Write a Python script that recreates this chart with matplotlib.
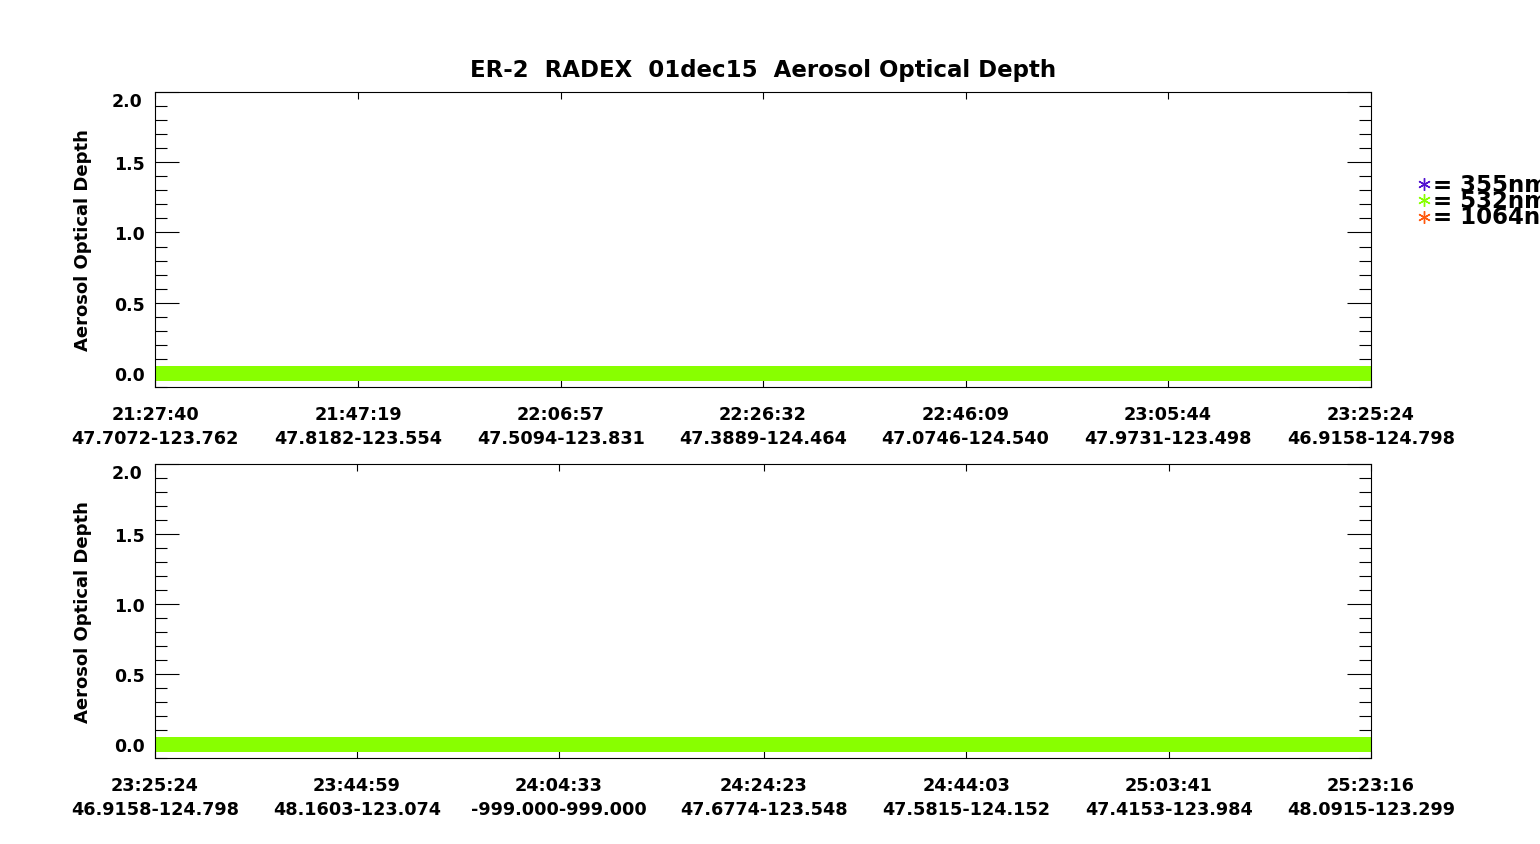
import matplotlib
matplotlib.use("Agg")
import matplotlib.pyplot as plt
import matplotlib.transforms as mtransforms
from matplotlib.lines import Line2D
from matplotlib.ticker import MultipleLocator, FuncFormatter

plt.rcParams['font.family'] = ['DejaVu Sans']
plt.rcParams['font.weight'] = 'bold'

title = "ER-2  RADEX  01dec15  Aerosol Optical Depth"
ylabel = "Aerosol Optical Depth"
ymin, ymax = -0.1, 2.0

# Panel 1 tick times (seconds since 00:00 UTC) and labels
top_tick_sec = [77260, 78439, 79617, 80792, 81969, 83144, 84324]
top_tick_time = ["21:27:40", "21:47:19", "22:06:57", "22:26:32", "22:46:09", "23:05:44", "23:25:24"]
top_tick_pos = ["47.7072-123.762", "47.8182-123.554", "47.5094-123.831", "47.3889-124.464",
                "47.0746-124.540", "47.9731-123.498", "46.9158-124.798"]
top_aod532 = [0.0, 0.0, 0.0, 0.0, 0.0, 0.0, 0.0]

# Panel 2
bot_tick_sec = [84324, 85499, 86673, 87863, 89043, 90221, 91396]
bot_tick_time = ["23:25:24", "23:44:59", "24:04:33", "24:24:23", "24:44:03", "25:03:41", "25:23:16"]
bot_tick_pos = ["46.9158-124.798", "48.1603-123.074", "-999.000-999.000", "47.6774-123.548",
                "47.5815-124.152", "47.4153-123.984", "48.0915-123.299"]
bot_aod532 = [0.0, 0.0, 0.0, 0.0, 0.0, 0.0, 0.0]

legend_labels = ["= 355nm", "= 532nm", "= 1064nm"]
legend_colors = ["#5010d0", "#88ff00", "#ff5a10"]

fig = plt.figure(figsize=(15.4, 8.45), dpi=100)

left, width = 155 / 1540, (1371 - 155) / 1540
panels = [
    (1 - 388 / 845, (388 - 93) / 845, top_tick_sec, top_tick_time, top_tick_pos, top_aod532),
    (1 - 759 / 845, (759 - 465) / 845, bot_tick_sec, bot_tick_time, bot_tick_pos, bot_aod532),
]

def yfmt(v, pos):
    if abs(v - ymax) < 1e-9:
        return ''
    return f'{v:.1f}'

for bottom, height, tsec, ttime, tpos, aod in panels:
    ax = fig.add_axes([left, bottom, width, height])
    ax.plot(tsec, aod, color="#88ff00", lw=10.8, solid_capstyle='butt')
    ax.set_xlim(tsec[0], tsec[-1])
    ax.set_ylim(ymin, ymax)
    ax.set_xticks(tsec)
    ax.set_xticklabels([a + "\n" + b for a, b in zip(ttime, tpos)],
                       fontsize=12.7, fontweight='bold', linespacing=1.4)
    ax.yaxis.set_major_locator(MultipleLocator(0.5))
    ax.yaxis.set_minor_locator(MultipleLocator(0.1))
    ax.yaxis.set_major_formatter(FuncFormatter(yfmt))
    ax.tick_params(axis='x', which='major', direction='in', top=True, bottom=True,
                   length=5, width=0.8, pad=13)
    ax.tick_params(axis='y', which='major', direction='in', left=True, right=True,
                   length=17, width=0.8, pad=7, labelsize=12.5)
    ax.tick_params(axis='y', which='minor', direction='in', left=True, right=True,
                   length=8.5, width=0.8)
    for sp in ax.spines.values():
        sp.set_linewidth(0.8)
    # top tick label, drawn slightly lower as in the reference
    off = mtransforms.ScaledTranslation(-9 / 72, -6.5 / 72, fig.dpi_scale_trans)
    ax.text(0, ymax, f'{ymax:.1f}', transform=ax.get_yaxis_transform() + off,
            ha='right', va='center', fontsize=12.5, fontweight='bold')
    ax.set_ylabel(ylabel, fontsize=13, fontweight='bold')
    ax.yaxis.set_label_coords(-0.0518, 0.5)

fig.text(763 / 1540, 1 - 71 / 845, title, ha='center', va='center',
         fontsize=16.5, fontweight='bold')

legend_y = [185, 201, 218]
for yy, lab, col in zip(legend_y, legend_labels, legend_colors):
    fig.lines.append(Line2D([1424 / 1540], [1 - yy / 845], marker=(6, 2, 0),
                            markersize=9, markeredgewidth=1.0, color=col,
                            linestyle='none', transform=fig.transFigure))
    fig.text(1433 / 1540, 1 - yy / 845, lab, ha='left', va='center',
             fontsize=16.5, fontweight='bold')

fig.savefig("out.png", dpi=100)
